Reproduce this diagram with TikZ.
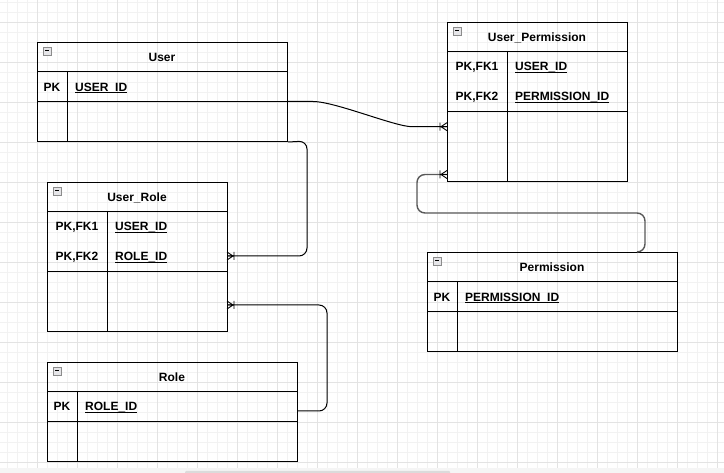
\documentclass[tikz,border=0pt]{standalone}
\usepackage{fontspec}
\setmainfont{Liberation Sans}
\usetikzlibrary{calc}
\def\collapsebox(#1,#2){\draw[iconbox] (#1,#2) rectangle ++(8,8); \draw[iconminus] (#1,#2) ++(2,4) -- ++(4,0);}
\def\field(#1)(#2,#3)#4{\node[fieldtext] (#1) at (#2,#3) {#4}; \draw[fieldline] ([yshift=-1.5pt]#1.base west) -- ([yshift=-1.5pt]#1.base east);}

\tikzset{
	minorgrid/.style={line width=0.7pt, color=black!5},
	majorgrid/.style={line width=0.7pt, color=black!11},
	tablebox/.style={draw, line width=1pt, inner sep=0pt, anchor=north west},
	tableline/.style={line width=1pt},
	tabletitle/.style={font=\fontsize{12}{14}\selectfont\bfseries, inner sep=0pt, anchor=base},
	keytext/.style={font=\fontsize{12}{14}\selectfont\bfseries, inner sep=0pt, anchor=base},
	fieldtext/.style={font=\fontsize{12}{14}\selectfont\bfseries, inner sep=0pt, anchor=base west},
	fieldline/.style={line width=0.8pt},
	iconbox/.style={draw=black!45, fill=blue!8!black!10, line width=0.6pt},
	iconminus/.style={line width=1pt},
	relation/.style={line width=1pt, rounded corners=8pt},
	crowline/.style={line width=0.9pt},
	crow/.pic={\draw[crowline] (-6,0) -- (0,-4) (-6,0) -- (0,4) (-7,-4) -- (-7,4) (-7,0) -- (0,0);}
}

\begin{document}
\begin{tikzpicture}[x=1pt, y=-1pt]
			%%%%% START %%%%%
			\useasboundingbox (0,0) rectangle (724,473);
			\fill[white] (0,0) rectangle (724,473);
			
			% grid
			\foreach \gx in {7,17,...,717} \draw[minorgrid] (\gx,0) -- (\gx,468);
			\foreach \gy in {2,12,...,462} \draw[minorgrid] (0,\gy) -- (724,\gy);
			\foreach \gx in {37,77,...,717} \draw[majorgrid] (\gx,0) -- (\gx,468);
			\foreach \gy in {22,62,...,462} \draw[majorgrid] (0,\gy) -- (724,\gy);
			\fill[black!4] (0,468) rectangle (724,473);
			\fill[black!14, rounded corners=1pt] (185,471) rectangle (450,474);
			
			% User
			\node[tablebox, minimum width=250pt, minimum height=99pt] (user) at (37,42) {};
			\draw[tableline] (37,72) -- (287,72);
			\draw[tableline] (37,102) -- (287,102);
			\draw[tableline] (67,72) -- (67,141);
			\collapsebox(43,47)
			\node[tabletitle] (usertitle) at (162,61.3) {User};
			\node[keytext] (userpk) at (52,91.3) {PK};
			\field(userid)(75,91.3){USER\_ID}
			
			% User_Permission
			\node[tablebox, minimum width=180pt, minimum height=159pt] (userperm) at (447,22) {};
			\draw[tableline] (447,52) -- (627,52);
			\draw[tableline] (447,111.5) -- (627,111.5);
			\draw[tableline] (507,52) -- (507,181);
			\collapsebox(453,27)
			\node[tabletitle] (upermtitle) at (537,41.3) {User\_Permission};
			\node[keytext] (upermkey1) at (477,71) {PK,FK1};
			\node[keytext] (upermkey2) at (477,101) {PK,FK2};
			\field(upermuser)(515,71){USER\_ID}
			\field(upermperm)(515,101){PERMISSION\_ID}
			
			% User_Role
			\node[tablebox, minimum width=180pt, minimum height=149pt] (userrole) at (47,182) {};
			\draw[tableline] (47,212) -- (227,212);
			\draw[tableline] (47,271.5) -- (227,271.5);
			\draw[tableline] (107,212) -- (107,331);
			\collapsebox(53,187)
			\node[tabletitle] (uroletitle) at (137,201.3) {User\_Role};
			\node[keytext] (urolekey1) at (77,231) {PK,FK1};
			\node[keytext] (urolekey2) at (77,261) {PK,FK2};
			\field(uroleuser)(115,231){USER\_ID}
			\field(urolerole)(115,261){ROLE\_ID}
			
			% Role
			\node[tablebox, minimum width=250pt, minimum height=99pt] (role) at (47,362) {};
			\draw[tableline] (47,392) -- (297,392);
			\draw[tableline] (47,421.5) -- (297,421.5);
			\draw[tableline] (77,392) -- (77,461);
			\collapsebox(53,367)
			\node[tabletitle] (roletitle) at (172,381.3) {Role};
			\node[keytext] (rolepk) at (62,411) {PK};
			\field(roleid)(85,411){ROLE\_ID}
			
			% Permission
			\node[tablebox, minimum width=250pt, minimum height=99pt] (perm) at (427,252) {};
			\draw[tableline] (427,282) -- (677,282);
			\draw[tableline] (427,311.5) -- (677,311.5);
			\draw[tableline] (457,282) -- (457,351);
			\collapsebox(433,257)
			\node[tabletitle] (permtitle) at (552,271.3) {Permission};
			\node[keytext] (permpk) at (442,301.3) {PK};
			\field(permid)(465,301.3){PERMISSION\_ID}
			
			% relations
			\coordinate (userout) at (287,101.5);
			\coordinate (upermin1) at (447,126.7);
			\coordinate (upermin2) at (447,174.5);
			\coordinate (urolein1) at (227,256);
			\coordinate (urolein2) at (227,305);
			\coordinate (roleout) at (297,411);
			\coordinate (permout) at (637,252);
			
			\draw[relation] (userout) -- (305,101.5) .. controls (335,101.5) and (395,126.7) .. (420,126.7) -- (upermin1);
			\draw[relation] (user.south east) -- (307,141) -- (307,256) -- (urolein1);
			\draw[relation] (roleout) -- (327,411) -- (327,305) -- (urolein2);
			\draw[relation, draw=black!65, line width=1.4pt] (permout) -- (645,252) -- (645,213) -- (417,213) -- (417,174.5) -- (upermin2);
			
			\pic at (upermin1) {crow};
			\pic at (upermin2) {crow};
			\pic[rotate=180] at (urolein1) {crow};
			\pic[rotate=180] at (urolein2) {crow};
			
			%%%%% END %%%%%
\end{tikzpicture}
\end{document}
